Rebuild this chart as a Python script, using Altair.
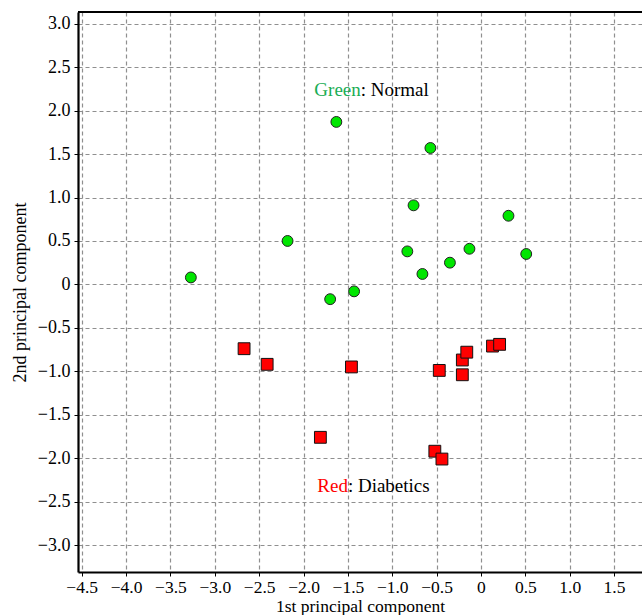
import altair as alt
import pandas as pd

# Normal (green) points
normal_x = [-1.63, -0.57, -0.76, 0.31, -2.18, -0.83, -0.13, 0.51, -0.35, -0.66, -3.27, -1.70, -1.43]
normal_y = [1.87, 1.57, 0.91, 0.79, 0.50, 0.38, 0.41, 0.35, 0.25, 0.12, 0.08, -0.17, -0.08]
# Diabetic (red) points
diab_x = [-2.67, -2.41, -1.46, -1.81, -0.47, -0.21, -0.16, -0.21, 0.13, 0.21, -0.52, -0.44]
diab_y = [-0.74, -0.92, -0.95, -1.76, -0.99, -0.87, -0.78, -1.04, -0.71, -0.69, -1.92, -2.01]

x_ticks = [-4.5, -4.0, -3.5, -3.0, -2.5, -2.0, -1.5, -1.0, -0.5, 0, 0.5, 1.0, 1.5]
y_ticks = [-3.0, -2.5, -2.0, -1.5, -1.0, -0.5, 0, 0.5, 1.0, 1.5, 2.0, 2.5, 3.0]

x_domain = [-4.542, 1.815]
y_domain = [-3.31, 3.135]

W, H = 564, 560
FONT = "Liberation Serif"

normal = pd.DataFrame({"x": normal_x, "y": normal_y})
diab = pd.DataFrame({"x": diab_x, "y": diab_y})

lab_expr = "datum.value == 0 ? '0' : replace(format(datum.value, '.1f'), '-', '\u2212')"

xs = alt.Scale(domain=x_domain, nice=False, zero=False)
ys = alt.Scale(domain=y_domain, nice=False, zero=False)

common = dict(grid=True, gridDash=[4, 3], gridColor="#8f8f8f", gridWidth=1.2,
              domainColor="black", domainWidth=2.2, tickColor="black", tickSize=4,
              labelFont=FONT, labelColor="black",
              titleFont=FONT, titleFontWeight="normal", titleColor="black")

xax = alt.Axis(values=x_ticks, labelExpr=lab_expr, title="1st principal component",
               labelFontSize=17.5, titleFontSize=17.5,
               labelPadding=2, titlePadding=2, **common)
yax = alt.Axis(values=y_ticks, labelExpr=lab_expr, title="2nd principal component",
               labelFontSize=18, titleFontSize=18,
               labelPadding=4, titlePadding=8, **common)

green = alt.Chart(normal).mark_point(shape="circle", filled=True, fill="#00e600",
                                     stroke="#222222", strokeWidth=1, size=118, opacity=1).encode(
    x=alt.X("x:Q", scale=xs, axis=xax),
    y=alt.Y("y:Q", scale=ys, axis=yax),
)
red = alt.Chart(diab).mark_point(shape="square", filled=True, fill="#ff0000",
                                 stroke="#111111", strokeWidth=1, size=140, opacity=1).encode(
    x=alt.X("x:Q", scale=xs),
    y=alt.Y("y:Q", scale=ys),
)

ann = pd.DataFrame({
    "x": [-1.355, -1.355, -1.50, -1.50],
    "y": [2.24, 2.24, -2.32, -2.32],
    "t": ["Green", ": Normal", "Red", ": Diabetics"],
    "c": ["#1aad55", "black", "#ff0000", "black"],
    "a": ["right", "left", "right", "left"],
})

def txt(i):
    return alt.Chart(ann.iloc[[i]]).mark_text(
        font=FONT, fontSize=19, baseline="middle", align=ann["a"][i],
        color=ann["c"][i]).encode(
        x=alt.X("x:Q", scale=xs), y=alt.Y("y:Q", scale=ys), text="t:N")

top = alt.Chart(normal).mark_rule(color="black", strokeWidth=2.2).encode(
    x=alt.value(0), x2=alt.value(W + 5), y=alt.value(0))

chart = alt.layer(green, red, txt(0), txt(1), txt(2), txt(3), top).properties(
    width=W, height=H,
    background="white",
    autosize=alt.AutoSizeParams(type="none"),
    padding={"left": 78, "top": 12, "right": 0, "bottom": 43},
).configure_view(stroke=None)

chart.save("out.html", embed_options={"renderer": "svg", "actions": False})
